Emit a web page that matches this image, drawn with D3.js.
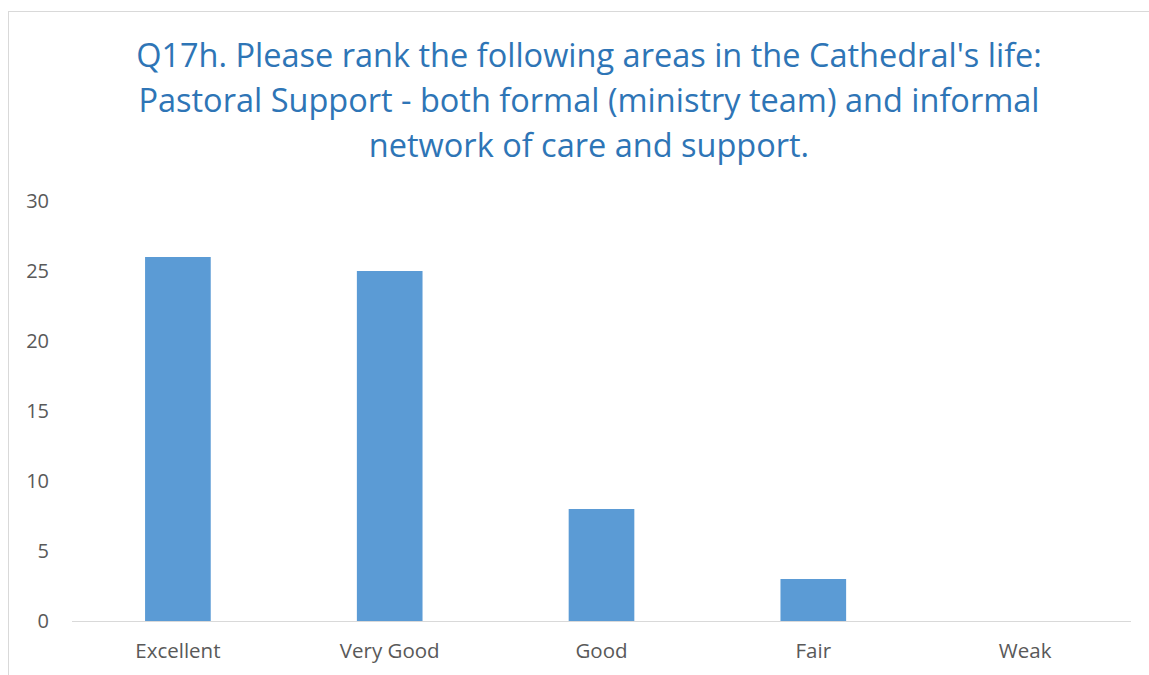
<!DOCTYPE html>
<html>
<head>
<meta charset="utf-8">
<script src="https://cdn.jsdelivr.net/npm/d3@7"></script>
<style>
  body { margin: 0; background: #fff; }
  text { font-family: "Open Sans", "Noto Sans", sans-serif; }
</style>
</head>
<body>
<svg id="chart"></svg>
<script>
const categories = ['Excellent', 'Very Good', 'Good', 'Fair', 'Weak'];
const counts = [26, 25, 8, 3, 0];
const yTicks = [0, 5, 10, 15, 20, 25, 30];
const titleLines = [
  "Q17h. Please rank the following areas in the Cathedral's life:",
  'Pastoral Support - both formal (ministry team) and informal',
  'network of care and support.'
];

const width = 1149, height = 675;
const plot = { left: 72, right: 1131, top: 201, bottom: 621 };

const svg = d3.select('#chart').attr('width', width).attr('height', height);

// chart frame (cut off on the right and bottom like the source)
svg.append('rect')
  .attr('x', 8.5).attr('y', 11.5)
  .attr('width', width + 10).attr('height', height + 10)
  .attr('fill', '#fff').attr('stroke', '#d9d9d9').attr('stroke-width', 1);

svg.append('g').selectAll('text').data(titleLines).enter()
  .append('text')
  .attr('x', 589)
  .attr('y', (d, i) => 67 + i * 45)
  .attr('text-anchor', 'middle')
  .attr('fill', '#2e75b6')
  .attr('font-size', 32.5)
  .text(d => d);

const x = d3.scaleBand().domain(categories).range([plot.left, plot.right]).padding(0);
const y = d3.scaleLinear().domain([0, 30]).range([plot.bottom, plot.top]);
const barW = x.step() * 0.31;

svg.append('g').selectAll('rect').data(counts).enter()
  .append('rect')
  .attr('x', (d, i) => x(categories[i]) + x.bandwidth() / 2 - barW / 2)
  .attr('y', d => y(d))
  .attr('width', barW)
  .attr('height', d => y(0) - y(d))
  .attr('fill', '#5b9bd5');

// baseline
svg.append('line')
  .attr('x1', plot.left).attr('x2', plot.right)
  .attr('y1', y(0) + 0.5).attr('y2', y(0) + 0.5)
  .attr('stroke', '#d9d9d9').attr('stroke-width', 1);

const yAxis = svg.append('g')
  .attr('transform', `translate(${plot.left - 23},0)`)
  .call(d3.axisLeft(y).tickValues(yTicks).tickSize(0).tickPadding(0));
yAxis.select('.domain').remove();
yAxis.selectAll('text').attr('fill', '#595959').attr('font-size', 20)
  .attr('font-family', '"Open Sans", sans-serif');

const xAxis = svg.append('g')
  .attr('transform', `translate(0,${plot.bottom})`)
  .call(d3.axisBottom(x).tickSize(0).tickPadding(22));
xAxis.select('.domain').remove();
xAxis.selectAll('text').attr('fill', '#595959').attr('font-size', 20.5)
  .attr('font-family', '"Open Sans", sans-serif');
</script>
</body>
</html>
